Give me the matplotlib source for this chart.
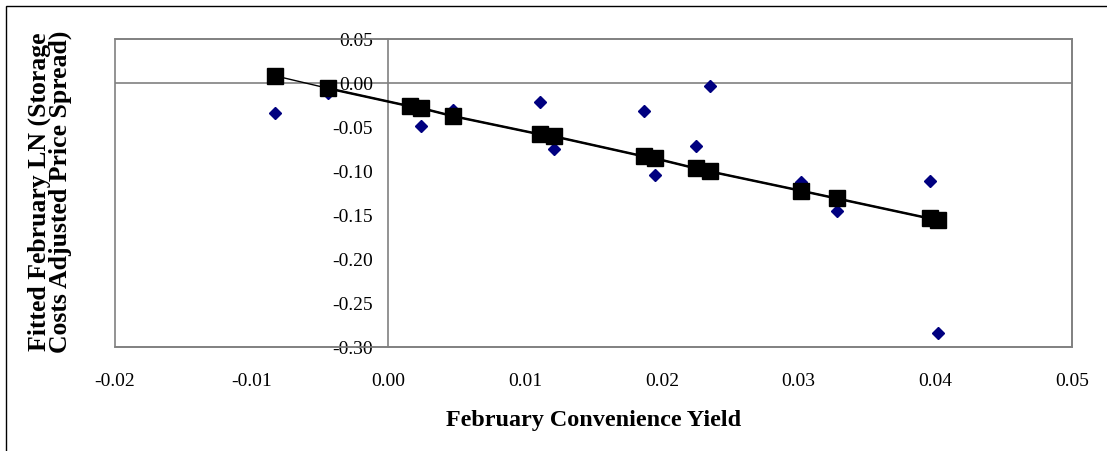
import matplotlib
matplotlib.use("Agg")
import matplotlib.pyplot as plt
from matplotlib.patches import Rectangle

# ---- data ----
conv_yield = [-0.0083, -0.0044, 0.0016, 0.0024, 0.0047, 0.0111, 0.0121, 0.0187,
              0.0195, 0.0225, 0.0235, 0.0302, 0.0328, 0.0396, 0.0402]
actual_spread = [-0.0346, -0.0120, -0.0270, -0.0490, -0.0310, -0.0218, -0.0755, -0.0327,
                 -0.1046, -0.0724, -0.0036, -0.1133, -0.1462, -0.1122, -0.2836]
fitted_spread = [0.0077, -0.0066, -0.0270, -0.0290, -0.0380, -0.0588, -0.0610, -0.0838,
                 -0.0860, -0.0974, -0.1008, -0.1228, -0.1315, -0.1542, -0.1564]
x_ticks = [-0.02, -0.01, 0.00, 0.01, 0.02, 0.03, 0.04, 0.05]
y_ticks = [0.05, 0.00, -0.05, -0.10, -0.15, -0.20, -0.25, -0.30]
x_label = "February Convenience Yield"
y_label = "Fitted February LN (Storage\nCosts Adjusted Price Spread)"

plt.rcParams['font.family'] = ['Liberation Serif', 'DejaVu Serif']

W, H = 1107, 452
fig = plt.figure(figsize=(W / 100, H / 100), dpi=100)
ax = fig.add_axes([115 / W, (H - 348) / H, (1072 - 115) / W, (348 - 39.5) / H])

gray = '#808080'
ax.set_xlim(-0.02, 0.05)
ax.set_ylim(-0.30, 0.05)

ax.axhline(0, color=gray, lw=1.2, zorder=1)
ax.spines['left'].set_position(('data', 0))
for s in ['left', 'right', 'top', 'bottom']:
    ax.spines[s].set_color(gray)
    ax.spines[s].set_linewidth(1.2)
ax.add_patch(Rectangle((0, 0), 1, 1, transform=ax.transAxes, fill=False,
                       edgecolor=gray, lw=1.2, zorder=1, clip_on=False))

ax.plot(conv_yield, actual_spread, linestyle='none', marker='D', markersize=6.5,
        color='#000080', zorder=3, clip_on=False)
ax.plot(conv_yield, fitted_spread, color='black', lw=1.0, zorder=4)
ax.plot(conv_yield[1:], fitted_spread[1:], color='black', lw=1.8, zorder=4)
ax.plot(conv_yield, fitted_spread, linestyle='none', marker='s', markersize=11,
        color='black', zorder=5)

ax.set_xticks(x_ticks)
ax.set_xticklabels([f"{v:.2f}" for v in x_ticks])
ax.set_yticks(y_ticks)
ax.set_yticklabels([f"{v:.2f}" for v in y_ticks])
ax.tick_params(axis='x', length=0, pad=18, labelsize=14)
ax.tick_params(axis='y', length=0, pad=11, labelsize=14)

fig.text(594 / W, 1 - 421 / H, x_label, ha='center', va='center',
         fontsize=17.4, fontweight='bold')
fig.text(50 / W, 1 - 192 / H, y_label, ha='center', va='center', rotation=90,
         fontsize=18.5, fontweight='bold', linespacing=0.86, multialignment='center')

fig.add_artist(Rectangle((6 / W, -0.1), 1.2, 1 - 7 / H + 0.1, transform=fig.transFigure,
                         fill=False, edgecolor='black', lw=1.0))

fig.savefig('out.png', dpi=100)
